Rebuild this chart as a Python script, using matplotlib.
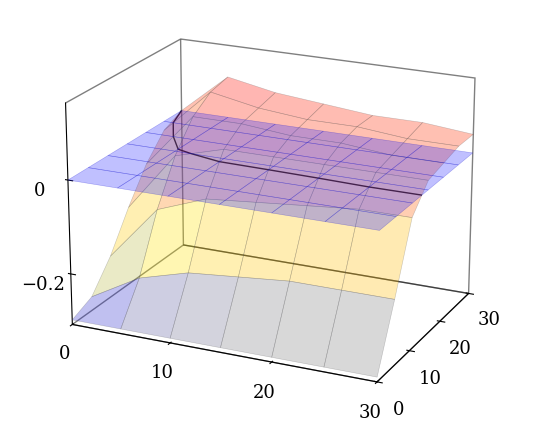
import numpy as np
import matplotlib
matplotlib.use("Agg")
import matplotlib.pyplot as plt
from matplotlib.colors import LinearSegmentedColormap

# grid
x_vals = [0, 5, 10, 15, 20, 25, 30]
y_vals = [0, 5, 10, 15, 20, 25, 30]
z_rows = [  # one row per x, columns follow y
    [-0.30, -0.28, -0.22, -0.14, -0.07, -0.02, 0.00],
    [-0.30, -0.22, -0.10, -0.01, 0.05, 0.08, 0.09],
    [-0.30, -0.19, -0.06, 0.02, 0.05, 0.06, 0.07],
    [-0.30, -0.18, -0.05, 0.02, 0.04, 0.05, 0.06],
    [-0.30, -0.17, -0.04, 0.02, 0.04, 0.05, 0.05],
    [-0.30, -0.17, -0.03, 0.02, 0.03, 0.04, 0.05],
    [-0.30, -0.17, -0.03, 0.02, 0.03, 0.04, 0.04],
]
plane_z = 0.0

plt.rcParams["font.family"] = "DejaVu Serif"

X, Y = np.meshgrid(x_vals, y_vals, indexing="ij")
Z = np.array(z_rows)

hot = LinearSegmentedColormap.from_list("pgfhot", ["#0000ff", "#ffff00", "#ff8000", "#ff0000"])

fig = plt.figure(figsize=(5.35, 4.32), dpi=100)
ax = fig.add_axes([0.0, 0.0, 1.0, 1.04], projection="3d")
ax.view_init(elev=20, azim=-65)
ax.set_box_aspect((1.35, 1, 0.95), zoom=1.02)

ax.plot_surface(X, Y, np.full_like(Z, plane_z), color="#3030ff", alpha=0.3,
                edgecolor=(0, 0, 0.8, 0.5), linewidth=0.4, shade=False)
ax.plot_surface(X, Y, Z, cmap=hot, alpha=0.3, edgecolor=(0.3, 0.3, 0.3, 0.4),
                linewidth=0.4, shade=False, vmin=-0.3, vmax=0.09)
ax.contour(X, Y, Z, levels=[0.0], colors="black", linewidths=1.0)

ax.set_xlim(0, 30)
ax.set_ylim(0, 30)
ax.set_zlim(-0.31, 0.16)
ax.set_xticks([0, 10, 20, 30])
ax.set_yticks([0, 10, 20, 30])
ax.set_zticks([-0.2, 0])
ax.set_zticklabels(["−0.2", "0"])
ax.zaxis._axinfo["juggled"] = (1, 2, 0)
for a in (ax.xaxis, ax.yaxis, ax.zaxis):
    a.pane.fill = False
    a.pane.set_edgecolor("black")
    a.line.set_color("black")
    a._axinfo["grid"]["linewidth"] = 0
ax.grid(False)
ax.tick_params(labelsize=13)
fig.savefig("out.png")
